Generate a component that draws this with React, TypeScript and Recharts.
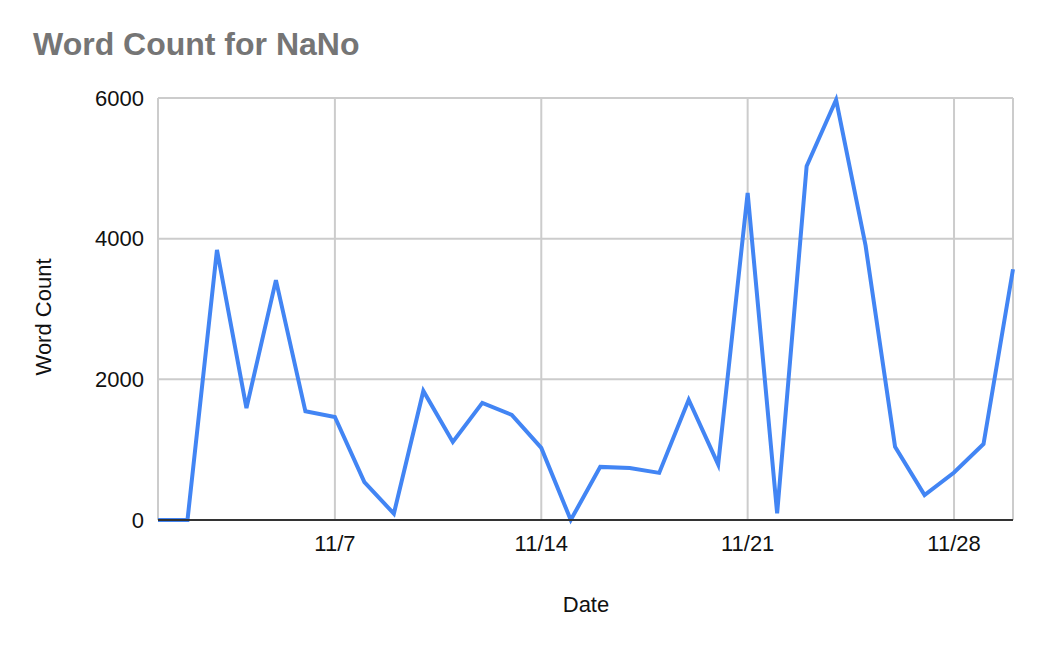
import { LineChart, Line, XAxis, YAxis, CartesianGrid } from "recharts";

const days = [
  1, 2, 3, 4, 5, 6, 7, 8, 9, 10, 11, 12, 13, 14, 15,
  16, 17, 18, 19, 20, 21, 22, 23, 24, 25, 26, 27, 28, 29, 30,
];
const wordCounts = [
  0, 0, 3840, 1590, 3410, 1545, 1465, 540, 90, 1835, 1110, 1665, 1495, 1025, 0,
  755, 740, 670, 1710, 790, 4650, 95, 5030, 5975, 3900, 1040, 355, 675, 1080, 3565,
];
const xTicks = [7, 14, 21, 28];
const yTicks = [0, 2000, 4000, 6000];

const data = days.map((d, i) => ({ day: d, words: wordCounts[i] }));

const font = "'Liberation Sans', Arial, sans-serif";

export default function App() {
  return (
    <div style={{ position: "absolute", left: 0, top: 0, width: 1046, height: 650, background: "#fff", fontFamily: font }}>
      <div
        style={{
          position: "absolute",
          left: 33,
          top: 28,
          fontSize: 32,
          lineHeight: "32px",
          fontWeight: "bold",
          color: "#757575",
          whiteSpace: "nowrap",
        }}
      >
        Word Count for NaNo
      </div>
      <LineChart width={1046} height={650} data={data} margin={{ top: 98, right: 33, left: 0, bottom: 0 }}>
        <CartesianGrid stroke="#cccccc" strokeWidth={2} />
        <XAxis
          dataKey="day"
          type="number"
          domain={[1, 30]}
          ticks={xTicks}
          tickFormatter={(d) => `11/${d}`}
          height={130}
          tickLine={false}
          tickMargin={9}
          axisLine={{ stroke: "#333333", strokeWidth: 2 }}
          tick={{ fill: "#111", fontSize: 22, fontFamily: font }}
          label={{
            content: () => (
              <text x={586} y={612} textAnchor="middle" fontSize={22} fontFamily={font} fill="#111">
                Date
              </text>
            ),
          }}
        />
        <YAxis
          type="number"
          domain={[0, 6000]}
          ticks={yTicks}
          width={158}
          tickLine={false}
          axisLine={false}
          tickMargin={8}
          tick={{ fill: "#111", fontSize: 22, fontFamily: font }}
          label={{
            content: () => (
              <text
                x={51}
                y={317}
                transform="rotate(-90 51 317)"
                textAnchor="middle"
                fontSize={22}
                fontFamily={font}
                fill="#111"
              >
                Word Count
              </text>
            ),
          }}
        />
        <Line
          type="linear"
          dataKey="words"
          stroke="#4285F4"
          strokeWidth={4}
          dot={false}
          isAnimationActive={false}
        />
      </LineChart>
    </div>
  );
}
